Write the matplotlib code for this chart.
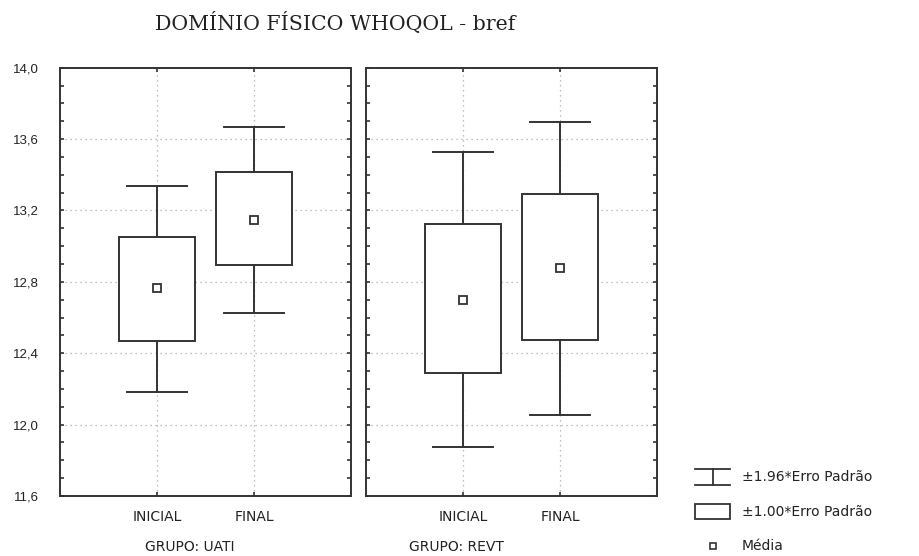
import matplotlib
matplotlib.use("Agg")
import matplotlib.pyplot as plt
from matplotlib.ticker import MultipleLocator
from matplotlib.lines import Line2D
from matplotlib.patches import Rectangle

title = "DOMÍNIO FÍSICO WHOQOL - bref"
groups = ["GRUPO: UATI", "GRUPO: REVT"]
categories = ["INICIAL", "FINAL"]
means = [[12.763, 13.144], [12.697, 12.875]]
box_low = [[12.471, 12.897], [12.292, 12.473]]
box_high = [[13.054, 13.413], [13.122, 13.290]]
whisk_low = [[12.180, 12.628], [11.874, 12.056]]
whisk_high = [[13.337, 13.667], [13.526, 13.694]]
ytick_labels = ["11,6", "12,0", "12,4", "12,8", "13,2", "13,6", "14,0"]
yticks = [11.6, 12.0, 12.4, 12.8, 13.2, 13.6, 14.0]
legend_labels = ["±1.96*Erro Padrão", "±1.00*Erro Padrão", "Média"]

W, H = 919, 556
fig = plt.figure(figsize=(W / 100, H / 100), dpi=100)
col = "#333333"
txtcol = "#222222"
sans_num = "Liberation Sans"
sans = "DejaVu Sans"

panel_px = [(60, 351), (366, 657)]
top_px, bot_px = 67.7, 496
group_label_frac = [0.445, 0.312]
xpos = [1, 2]

for gi, (x0, x1) in enumerate(panel_px):
    ax = fig.add_axes([x0 / W, 1 - bot_px / H, (x1 - x0) / W, (bot_px - top_px) / H])
    ax.set_xlim(0, 3)
    ax.set_ylim(11.6, 14.0)
    for s in ax.spines.values():
        s.set_color(col)
        s.set_linewidth(1.4)
    for y in yticks[1:-1]:
        ax.axhline(y, color="#aaaaaa", lw=0.9, ls=(0, (1, 3)), zorder=0)
    for x in xpos:
        ax.axvline(x, color="#aaaaaa", lw=0.9, ls=(0, (1, 3)), zorder=0)
    for ci, x in enumerate(xpos):
        m = means[gi][ci]
        bl, bh = box_low[gi][ci], box_high[gi][ci]
        wl, wh = whisk_low[gi][ci], whisk_high[gi][ci]
        hw, cw = 0.395, 0.31
        ax.add_patch(Rectangle((x - hw, bl), 2 * hw, bh - bl, fill=True,
                               facecolor="white", edgecolor=col, lw=1.4, zorder=2))
        ax.plot([x, x], [bh, wh], color=col, lw=1.4, zorder=2)
        ax.plot([x, x], [wl, bl], color=col, lw=1.4, zorder=2)
        ax.plot([x - cw, x + cw], [wh, wh], color=col, lw=1.4, zorder=2)
        ax.plot([x - cw, x + cw], [wl, wl], color=col, lw=1.4, zorder=2)
        ax.plot([x], [m], marker="s", ms=6.3, mfc="white", mec=col, mew=1.3, zorder=3)
    ax.set_yticks(yticks)
    ax.yaxis.set_minor_locator(MultipleLocator(0.1))
    ax.set_xticks(xpos)
    ax.tick_params(axis="both", which="both", direction="in", color=col,
                   width=1.2, length=3, left=True, right=True, top=True, bottom=True)
    if gi == 0:
        ax.set_yticklabels(ytick_labels, fontsize=9.5, family=sans_num, color=txtcol)
    else:
        ax.set_yticklabels([])
    ax.tick_params(axis="y", pad=15.5)
    ax.set_xticklabels(categories, fontsize=10, family=sans, color=txtcol)
    ax.tick_params(axis="x", pad=10)
    ax.text(group_label_frac[gi], -0.120, groups[gi], transform=ax.transAxes,
            ha="center", va="center", fontsize=10, family=sans, color=txtcol)

fig.text(335.5 / W, 1 - 23 / H, title, ha="center", va="center",
         fontsize=14.8, family="DejaVu Serif", color=txtcol)

# legend
ly = [477, 511.5, 545.5]
lx0, lx1, lxc = 695, 730, 713
y = 1 - ly[0] / H
fig.add_artist(Line2D([lx0 / W, lx1 / W], [y + 8 / H, y + 8 / H], color=col, lw=1.3))
fig.add_artist(Line2D([lx0 / W, lx1 / W], [y - 8 / H, y - 8 / H], color=col, lw=1.3))
fig.add_artist(Line2D([lxc / W, lxc / W], [y - 8 / H, y + 8 / H], color=col, lw=1.3))
y = 1 - ly[1] / H
fig.add_artist(Rectangle((lx0 / W, y - 7.5 / H), (lx1 - lx0) / W, 15 / H, transform=fig.transFigure,
                         fill=False, edgecolor=col, lw=1.3))
y = 1 - ly[2] / H
fig.add_artist(Line2D([lxc / W], [y], marker="s", ms=4.5, mfc="white", mec=col, mew=1.2))
for i, lab in enumerate(legend_labels):
    fig.text(742 / W, 1 - ly[i] / H, lab, ha="left", va="center", fontsize=10,
             family=sans, color=txtcol)

fig.savefig("out.png", dpi=100, facecolor="white")
